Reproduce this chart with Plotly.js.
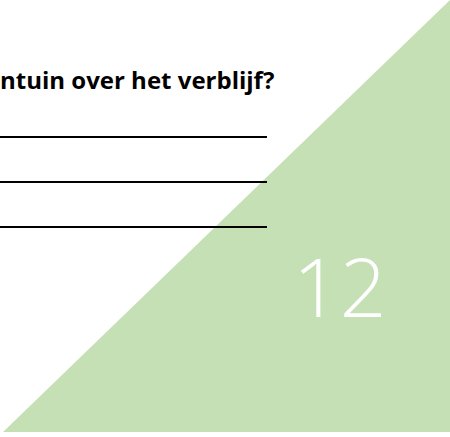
<!DOCTYPE html>
<html>
<head>
<meta charset="utf-8">
<script src="https://cdn.plot.ly/plotly-3.0.1.min.js"></script>
<style>html,body{margin:0;padding:0;background:#fff;}#chart{width:450px;height:437px;}</style>
</head>
<body>
<div id="chart"></div>
<script>
// Triangle corners (page coordinates, y down)
const triangleX = [450, 3, 450, 450];
const triangleY = [0, 432, 432, 0];
// Answer lines
const answerLineY = [137, 182, 227];
const answerLineStart = 0;
const answerLineEnd = 267;
// Texts
const questionText = "ntuin over het verblijf?";
const pageNumber = "12";

const traces = [{
  x: triangleX, y: triangleY, type: 'scatter', mode: 'lines',
  fill: 'toself', fillcolor: '#C5E0B4', line: {width: 0, color: '#C5E0B4'},
  hoverinfo: 'skip', showlegend: false
}];
answerLineY.forEach(y => {
  traces.push({
    x: [answerLineStart, answerLineEnd], y: [y, y], type: 'scatter', mode: 'lines',
    line: {color: '#000000', width: 2}, hoverinfo: 'skip', showlegend: false
  });
});

const layout = {
  width: 450, height: 437,
  margin: {l: 0, r: 0, t: 0, b: 0},
  paper_bgcolor: '#ffffff', plot_bgcolor: '#ffffff',
  xaxis: {range: [0, 450], visible: false, fixedrange: true},
  yaxis: {range: [437, 0], visible: false, fixedrange: true},
  showlegend: false,
  annotations: [
    {x: 276, y: 79, xref: 'x', yref: 'y', xanchor: 'right', yanchor: 'middle',
     text: '<b>' + questionText + '</b>', showarrow: false,
     font: {family: 'Open Sans, Liberation Sans, sans-serif', size: 24, color: '#000000'}},
    {x: 340, y: 285, xref: 'x', yref: 'y', xanchor: 'center', yanchor: 'middle',
     text: pageNumber, showarrow: false,
     font: {family: 'Open Sans, Lato, sans-serif', size: 82, color: '#ffffff', weight: 300}}
  ]
};
Plotly.newPlot('chart', traces, layout, {displayModeBar: false, staticPlot: true});
</script>
</body>
</html>
